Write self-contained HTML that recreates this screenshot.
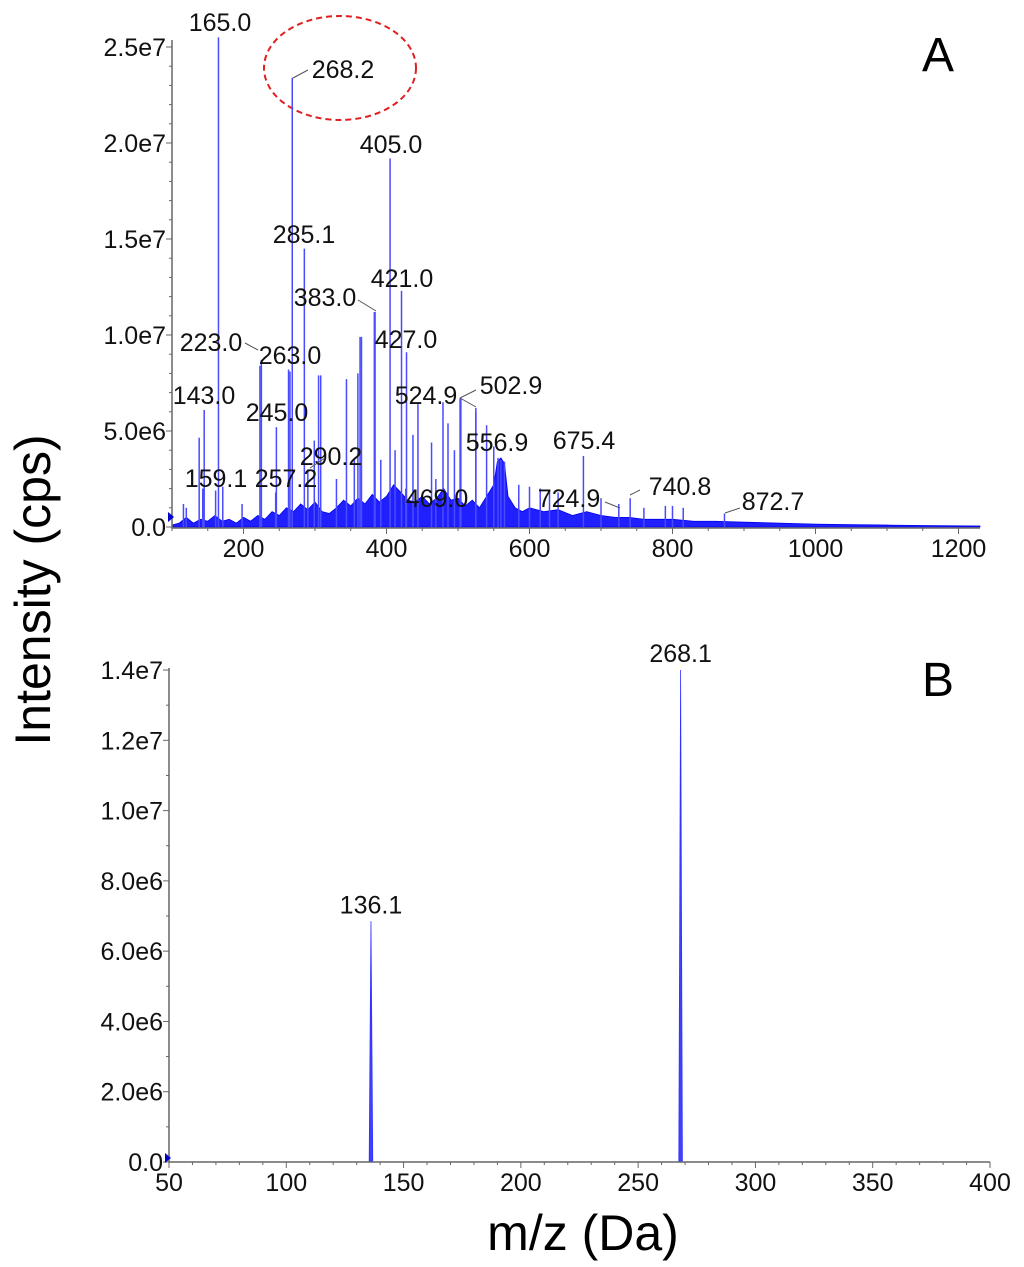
<!DOCTYPE html>
<html><head><meta charset="utf-8"><style>
body{margin:0;background:#fff}
svg{display:block;font-family:"Liberation Sans",Arial,sans-serif}
</style></head><body>
<svg id="svg" width="1024" height="1267" viewBox="0 0 1024 1267" xmlns="http://www.w3.org/2000/svg">
<ellipse cx="340" cy="68" rx="76" ry="52" fill="none" stroke="#e02020" stroke-width="2" stroke-dasharray="6,4"/>
<text x="938" y="71" font-size="48" text-anchor="middle">A</text>
<text x="938" y="696" font-size="48" text-anchor="middle">B</text>
<text transform="translate(50,590) rotate(-90)" font-size="50" text-anchor="middle">Intensity (cps)</text>
<text x="583" y="1250" font-size="50" text-anchor="middle">m/z (Da)</text>
<g id="ga"></g><g id="gb"></g>
</svg>
<script>
// Panel A data
const aPeakMz=[116,120,138,143,145,161,165,171,198,223,225,245,246,263,265,268.2,285.1,290,299,305,308,330,344,355,360,363,365,383,384,392,405,412,421,427,428,437,444,463,469,479,486,495,502.9,504,524.9,525,540,550,556,560,565,585,600,615,628,640,675.4,700,724.9,740.8,760,790,800,815,872.7];
const aPeakI=[1.2,1.0,4.65,2.0,6.1,1.9,25.5,2.1,1.2,8.4,8.7,1.8,5.2,8.2,8.1,23.4,14.5,3.0,4.5,7.9,7.9,2.5,7.7,3.5,8.0,9.9,9.9,11.2,11.2,3.5,19.2,4.0,12.3,2.0,9.1,4.8,6.4,4.4,2.5,6.5,5.4,4.0,6.7,6.7,6.0,6.2,5.3,4.2,3.6,3.5,3.4,2.2,2.1,2.0,1.9,1.8,3.7,1.5,1.2,1.5,1.0,1.1,1.1,1.0,0.7];
const aEnvMz=[100,110,120,130,140,150,160,170,180,190,200,210,220,230,240,250,260,270,280,290,300,310,320,330,340,350,360,370,380,390,400,410,420,430,440,450,460,470,480,490,500,510,520,530,540,550,555,560,565,570,580,590,600,620,640,660,680,700,720,740,760,780,800,830,860,900,950,1000,1050,1100,1150,1230];
const aEnvI=[0.1,0.2,0.5,0.2,0.4,0.3,0.6,0.3,0.4,0.2,0.5,0.3,0.6,0.4,0.8,0.6,1.0,0.8,1.2,0.9,1.3,0.8,0.7,1.0,1.4,1.1,1.5,1.2,1.7,1.3,1.6,2.2,1.8,1.4,1.3,1.6,1.2,1.5,2.0,1.4,1.5,1.1,1.4,1.0,1.6,2.2,3.4,3.6,3.3,1.6,1.0,0.8,1.0,0.8,0.9,0.6,0.8,0.6,0.5,0.5,0.4,0.4,0.4,0.3,0.3,0.25,0.2,0.15,0.12,0.1,0.08,0.05];
const aYTicks=["0.0","5.0e6","1.0e7","1.5e7","2.0e7","2.5e7"];
const aXTicks=[200,400,600,800,1000,1200];
const aLabels=["165.0","268.2","405.0","285.1","421.0","383.0","427.0","223.0","263.0","143.0","245.0","524.9","502.9","556.9","675.4","290.2","159.1","257.2","469.0","724.9","740.8","872.7"];
const aLabelX=[220,343,391,304,402,325,406,211,290,204,277,426,511,497,584,331,216,286,437,569,680,773];
const aLabelY=[31,78,153,243,287,306,348,351,364,404,421,404,394,451,449,465,487,487,507,507,495,510];
// Panel B data
const bPeakMz=[136.1,268.1];
const bPeakI=[6.85,14.0];
const bYTicks=["0.0","2.0e6","4.0e6","6.0e6","8.0e6","1.0e7","1.2e7","1.4e7"];
const bXTicks=[50,100,150,200,250,300,350,400];

const NS="http://www.w3.org/2000/svg";
function mk(tag,attrs,parent){const e=document.createElementNS(NS,tag);for(const k in attrs)e.setAttribute(k,attrs[k]);parent.appendChild(e);return e;}
const ax=m=>172+(m-100)*0.715, ay=i=>527-i*19.2;
const bx=m=>169+(m-50)*(821/350), by=i=>1162-i*35.14;
const ga=document.getElementById('ga'), gb=document.getElementById('gb');

let pts=aEnvMz.map((m,k)=>ax(m)+","+ay(aEnvI[k])).join(" ");
pts=ax(100)+","+ay(0)+" "+pts+" "+ax(1230)+","+ay(0);
const env=mk('polygon',{points:pts,fill:'#2020ff',stroke:'#0000ee','stroke-width':0.8},ga);


aPeakMz.forEach((m,k)=>{
 const l=mk('line',{x1:ax(m),x2:ax(m),y1:ay(0),y2:ay(aPeakI[k]),stroke:'#4a4aff','stroke-width':1.5},ga);
 
 
});
let axl=mk('path',{d:`M172,40V528H980`,stroke:'#666','stroke-width':1.5,fill:'none'},ga);


for(let i=0;i<=25;i++){mk('line',{x1:172-(i%5?3:6),x2:172,y1:ay(i),y2:ay(i),stroke:'#666'},ga);}
for(let m=100;m<=1200;m+=50){mk('line',{x1:ax(m),x2:ax(m),y1:528,y2:528+(m%200?3:6),stroke:'#666'},ga);}
aYTicks.forEach((t,k)=>{const e=mk('text',{x:166,y:ay(k*5)+9,'font-size':25,'text-anchor':'end',fill:'#111'},ga);e.textContent=t;
 
 });
aXTicks.forEach(t=>{const e=mk('text',{x:ax(t),y:557,'font-size':25,'text-anchor':'middle',fill:'#111'},ga);e.textContent=t;
 
 });
aLabels.forEach((t,k)=>{const e=mk('text',{x:aLabelX[k],y:aLabelY[k],'font-size':25,'text-anchor':'middle',fill:'#111'},ga);e.textContent=t;
 
 });
[[293,78,308,70],[358,300,376,311],[245,343,258,350],[460,398,476,390],[460,398,476,407],[310,468,325,458],[605,502,620,508],[630,495,640,490],[725,513,740,508]].forEach(s=>{
 mk('line',{x1:s[0],y1:s[1],x2:s[2],y2:s[3],stroke:'#555','stroke-width':1},ga);});
mk('path',{d:'M168,512L174,517L168,522Z',fill:'#0000cc'},ga);

bPeakMz.forEach((m,k)=>{
 const p=mk('path',{d:`M${bx(m)-1.8},${by(0)}L${bx(m)},${by(bPeakI[k])}L${bx(m)+1.8},${by(0)}Z`,fill:'#4040ff',stroke:'#3030ff','stroke-width':0.8},gb);
 
 
});
let bxl=mk('path',{d:`M169,668V1162H990`,stroke:'#666','stroke-width':1.5,fill:'none'},gb);


for(let i=0;i<=14;i++){mk('line',{x1:169-(i%2?3:6),x2:169,y1:by(i),y2:by(i),stroke:'#666'},gb);}
for(let m=50;m<=400;m+=10){mk('line',{x1:bx(m),x2:bx(m),y1:1162,y2:1162+(m%50?3:6),stroke:'#666'},gb);}
bYTicks.forEach((t,k)=>{const e=mk('text',{x:163,y:by(k*2)+9,'font-size':25,'text-anchor':'end',fill:'#111'},gb);e.textContent=t;
 
 });
bXTicks.forEach(t=>{const e=mk('text',{x:bx(t),y:1191,'font-size':25,'text-anchor':'middle',fill:'#111'},gb);e.textContent=t;
 
 });
bPeakMz.forEach((m,k)=>{const e=mk('text',{x:bx(m),y:by(bPeakI[k])-8,'font-size':25,'text-anchor':'middle',fill:'#111'},gb);e.textContent=m.toFixed(1);
 
 });
mk('path',{d:'M165,1153L171,1158L165,1163Z',fill:'#0000cc'},gb);
</script>
</body></html>
